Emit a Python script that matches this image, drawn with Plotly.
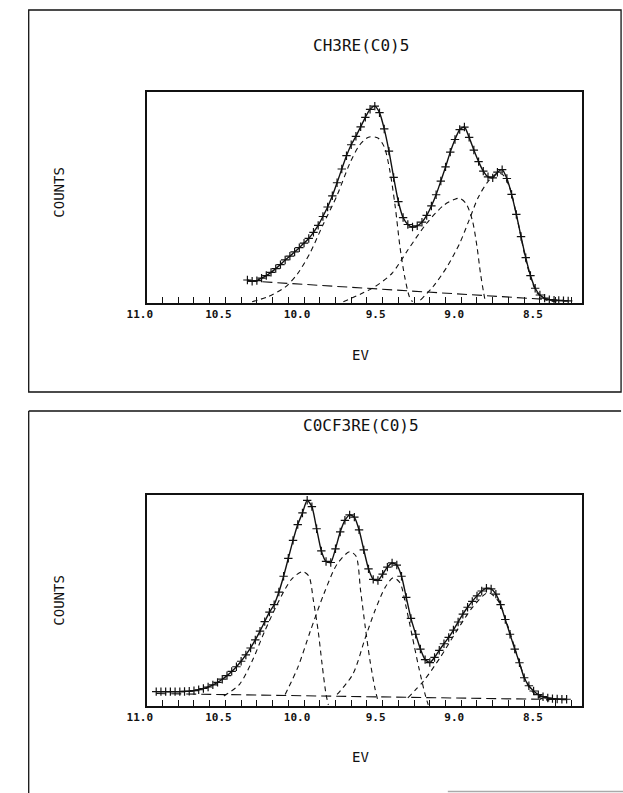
import plotly.graph_objects as go

W, H = 623, 793

# ---------------- data: top panel CH3Re(CO)5 ----------------
top_title = "CH3RE(C0)5"
top_env_ev = [10.36, 10.33, 10.30, 10.27, 10.24, 10.21, 10.18, 10.15, 10.12, 10.09, 10.06, 10.03,
              10.00, 9.97, 9.94, 9.91, 9.88, 9.85, 9.82, 9.79, 9.76, 9.73, 9.70, 9.67, 9.64, 9.61,
              9.58, 9.55, 9.52, 9.49, 9.46, 9.43, 9.40, 9.37, 9.34, 9.31, 9.28, 9.25, 9.22, 9.19,
              9.16, 9.13, 9.10, 9.07, 9.04, 9.01, 8.98, 8.95, 8.92, 8.89, 8.86, 8.83, 8.80, 8.77,
              8.74, 8.71, 8.68, 8.65, 8.62, 8.59, 8.56, 8.53, 8.50, 8.47, 8.44, 8.41, 8.38, 8.35, 8.32]
top_env_counts = [10.9, 10.3, 10.6, 11.8, 13.0, 14.5, 16.3, 18.2, 20.4, 22.2, 24.2, 26.2,
                  28.4, 30.6, 33.5, 36.8, 41.0, 45.5, 50.8, 57.0, 63.5, 69.8, 75.0, 79.0, 83.5, 88.0,
                  91.8, 93.3, 90.2, 82.5, 72.0, 59.5, 48.0, 40.5, 37.2, 36.0, 36.6, 38.3, 41.5, 46.0,
                  51.3, 57.8, 64.5, 71.5, 77.5, 82.2, 83.4, 78.5, 72.5, 67.0, 62.5, 59.8, 59.3, 62.0,
                  63.2, 59.0, 51.5, 42.0, 31.5, 21.5, 13.0, 7.0, 3.8, 2.3, 1.6, 1.3, 1.2, 1.1, 1.0]

top_c1_ev = [10.33, 10.23, 10.12, 10.04, 9.96, 9.88, 9.79, 9.71, 9.65, 9.59, 9.53, 9.49, 9.455, 9.42, 9.39, 9.36, 9.33, 9.31]
top_c1_counts = [0.6, 3.0, 7.5, 14.0, 24.0, 37.0, 51.0, 66.0, 74.5, 78.6, 78.2, 74.0, 63.0, 45.6, 26.7, 12.5, 3.0, 0.6]
top_c2_ev = [9.75, 9.63, 9.55, 9.44, 9.34, 9.22, 9.11, 9.04, 9.01, 8.97, 8.93, 8.90, 8.878, 8.857, 8.847]
top_c2_counts = [0.6, 4.6, 7.7, 14.1, 25.1, 37.8, 46.4, 49.2, 49.6, 47.2, 39.3, 26.7, 14.1, 4.6, 0.6]
top_c3_ev = [9.26, 9.18, 9.09, 9.01, 8.95, 8.89, 8.83, 8.77, 8.735, 8.69, 8.64, 8.58, 8.52, 8.46, 8.39]
top_c3_counts = [1.4, 7.7, 17.2, 28.3, 39.3, 50.4, 57.5, 61.5, 60.7, 54.4, 38.5, 17.5, 5.0, 1.4, 0.6]
top_bg_ev = [10.36, 8.33]
top_bg_counts = [10.5, 1.1]

# ---------------- data: bottom panel COCF3Re(CO)5 ----------------
bot_title = "C0CF3RE(C0)5"
bot_env_ev = [10.94, 10.91, 10.88, 10.85, 10.82, 10.79, 10.76, 10.73, 10.70, 10.67, 10.64, 10.61,
              10.58, 10.55, 10.52, 10.49, 10.46, 10.43, 10.40, 10.37, 10.34, 10.31, 10.28, 10.25,
              10.22, 10.19, 10.16, 10.13, 10.10, 10.07, 10.04, 10.01, 9.98, 9.95, 9.92, 9.89, 9.86,
              9.83, 9.80, 9.77, 9.74, 9.71, 9.68, 9.65, 9.62, 9.59, 9.56, 9.53, 9.50, 9.47, 9.44,
              9.41, 9.38, 9.35, 9.32, 9.29, 9.26, 9.23, 9.20, 9.17, 9.14, 9.11, 9.08, 9.05, 9.02,
              8.99, 8.96, 8.93, 8.90, 8.87, 8.84, 8.81, 8.78, 8.75, 8.72, 8.69, 8.66, 8.63, 8.60,
              8.57, 8.54, 8.51, 8.48, 8.45, 8.42, 8.39, 8.36, 8.33]
bot_env_counts = [6.8, 6.8, 6.8, 6.8, 6.8, 6.8, 6.9, 7.0, 7.3, 7.7, 8.3, 9.0,
                  10.0, 11.2, 12.7, 14.4, 16.4, 18.6, 21.2, 24.2, 27.5, 31.3, 35.5, 40.0,
                  44.5, 48.0, 54.0, 61.5, 70.0, 78.5, 86.0, 91.5, 97.5, 94.5, 84.0, 73.5, 68.5,
                  68.0, 74.5, 82.5, 88.0, 90.6, 89.5, 83.5, 74.0, 65.0, 60.0, 59.5, 62.5, 65.8, 67.8,
                  66.8, 61.5, 51.5, 41.5, 34.0, 27.0, 22.0, 20.6, 23.0, 26.4, 29.5, 32.5, 36.0, 39.8,
                  43.5, 46.8, 49.6, 52.2, 54.5, 55.8, 55.5, 53.0, 48.0, 41.0, 34.0, 27.0, 20.5, 13.4,
                  9.6, 7.1, 5.4, 4.4, 3.8, 3.5, 3.3, 3.2, 3.2]

bot_ca_ev = [10.51, 10.41, 10.33, 10.25, 10.16, 10.08, 10.01, 9.97, 9.94, 9.91, 9.885, 9.86, 9.845]
bot_ca_counts = [4.7, 10.3, 21.3, 35.5, 49.8, 60.0, 63.7, 61.6, 49.8, 35.5, 19.7, 5.5, 0.5]
bot_cb_ev = [10.12, 10.04, 9.96, 9.875, 9.79, 9.71, 9.67, 9.64, 9.61, 9.58, 9.55, 9.53]
bot_cb_counts = [5.5, 18.2, 35.5, 52.9, 67.2, 73.1, 71.1, 54.5, 37.1, 21.3, 8.7, 2.4]
bot_cc_ev = [9.79, 9.69, 9.61, 9.55, 9.485, 9.433, 9.39, 9.35, 9.31, 9.27, 9.23, 9.21]
bot_cc_counts = [5.5, 15.0, 32.4, 45.0, 56.1, 60.8, 58.4, 46.6, 32.4, 18.2, 5.5, 0.5]
bot_cd_ev = [9.34, 9.24, 9.135, 9.03, 8.93, 8.83, 8.765, 8.70, 8.64, 8.58, 8.52, 8.44]
bot_cd_counts = [3.9, 11.8, 22.9, 35.5, 46.6, 53.7, 49.8, 37.1, 22.9, 10.3, 4.7, 2.4]
bot_bg_ev = [10.94, 8.33]
bot_bg_counts = [5.9, 3.0]

tick_vals = [11.0, 10.5, 10.0, 9.5, 9.0, 8.5]
tick_text = ["11.0", "10.5", "10.0", "9.5", "9.0", "8.5"]
minor_vals = [10.9, 10.8, 10.7, 10.6, 10.4, 10.3, 10.2, 10.1, 9.9, 9.8, 9.7, 9.6,
              9.4, 9.3, 9.2, 9.1, 8.9, 8.8, 8.7, 8.6, 8.4, 8.3]
x_label = "EV"
y_label = "COUNTS"

# ---------------- figure ----------------
INK = "#111111"
def px(x):
    return x / W
def py(y):
    return 1 - y / H

fig = go.Figure()

def add_panel(xa, ya, env_x, env_y, comps, bg_x, bg_y):
    for cx, cy in comps:
        fig.add_trace(go.Scatter(x=cx, y=cy, xaxis=xa, yaxis=ya, mode="lines",
                                 line=dict(color=INK, width=1.1, dash="5px,4px", shape="spline", smoothing=0.8),
                                 showlegend=False, hoverinfo="skip"))
    fig.add_trace(go.Scatter(x=bg_x, y=bg_y, xaxis=xa, yaxis=ya, mode="lines",
                             line=dict(color=INK, width=1.1, dash="10px,5px"),
                             showlegend=False, hoverinfo="skip"))
    fig.add_trace(go.Scatter(x=env_x, y=env_y, xaxis=xa, yaxis=ya, mode="lines+markers",
                             line=dict(color=INK, width=1.4, shape="spline", smoothing=0.6),
                             marker=dict(symbol="cross-thin", size=6, line=dict(color=INK, width=1.2)),
                             showlegend=False))

add_panel("x", "y", top_env_ev, top_env_counts,
          [(top_c1_ev, top_c1_counts), (top_c2_ev, top_c2_counts), (top_c3_ev, top_c3_counts)],
          top_bg_ev, top_bg_counts)
add_panel("x2", "y2", bot_env_ev, bot_env_counts,
          [(bot_ca_ev, bot_ca_counts), (bot_cb_ev, bot_cb_counts),
           (bot_cc_ev, bot_cc_counts), (bot_cd_ev, bot_cd_counts)],
          bot_bg_ev, bot_bg_counts)

xcommon = dict(range=[11.0, 8.23], tickmode="array", tickvals=tick_vals, ticktext=tick_text,
               ticks="inside", ticklen=6, tickwidth=1.2, tickcolor=INK,
               minor=dict(tickmode="array", tickvals=minor_vals, ticks="inside", ticklen=6,
                          tickwidth=1.2, tickcolor=INK),
               ticklabelshift=7,
               showline=True, mirror=True, linecolor=INK, linewidth=1.6,
               showgrid=False, zeroline=False,
               tickfont=dict(family="DejaVu Sans Mono", size=11, color=INK, weight="bold"))
ycommon = dict(range=[0, 100], showticklabels=False, ticks="", showline=True, mirror=True,
               linecolor=INK, linewidth=1.6, showgrid=False, zeroline=False)

fig.update_layout(
    width=W, height=H, margin=dict(l=0, r=0, t=0, b=0),
    paper_bgcolor="white", plot_bgcolor="white",
    xaxis=dict(domain=[px(131), px(581)], anchor="y", **xcommon),
    yaxis=dict(domain=[py(303), py(92)], anchor="x", **ycommon),
    xaxis2=dict(domain=[px(131), px(581)], anchor="y2", **xcommon),
    yaxis2=dict(domain=[py(706), py(495)], anchor="x2", **ycommon),
)

txt_font = dict(family="DejaVu Sans Mono", color=INK)
annos = [
    dict(text=top_title, x=px(352), y=py(45), size=16),
    dict(text=bot_title, x=px(352), y=py(425), size=16),
    dict(text=x_label, x=px(352), y=py(355), size=14),
    dict(text=x_label, x=px(352), y=py(757), size=14),
]
for a in annos:
    fig.add_annotation(text=a["text"], x=a["x"], y=a["y"], xref="paper", yref="paper",
                       showarrow=False, xanchor="center", yanchor="middle",
                       font=dict(size=a["size"], **txt_font))
for yc in (192, 600):
    fig.add_annotation(text=y_label, x=px(40), y=py(yc), xref="paper", yref="paper",
                       showarrow=False, textangle=-90, xanchor="center", yanchor="middle",
                       font=dict(size=14, **txt_font))

# panel frames
frame = dict(color=INK, width=1.3)
fig.add_shape(type="rect", xref="paper", yref="paper", x0=px(9), x1=px(621), y0=py(392), y1=py(10), line=frame)
fig.add_shape(type="line", xref="paper", yref="paper", x0=px(9), x1=px(621), y0=py(411), y1=py(411), line=frame)
fig.add_shape(type="line", xref="paper", yref="paper", x0=px(9), x1=px(9), y0=py(411), y1=py(793), line=frame)
fig.add_shape(type="line", xref="paper", yref="paper", x0=px(442), x1=px(623), y0=py(791.5), y1=py(791.5),
              line=dict(color="#aaaaaa", width=1.5))

fig.write_html("out.html", config={"displayModeBar": False},
               post_script="document.body.style.margin='0';document.body.style.overflow='hidden';")
